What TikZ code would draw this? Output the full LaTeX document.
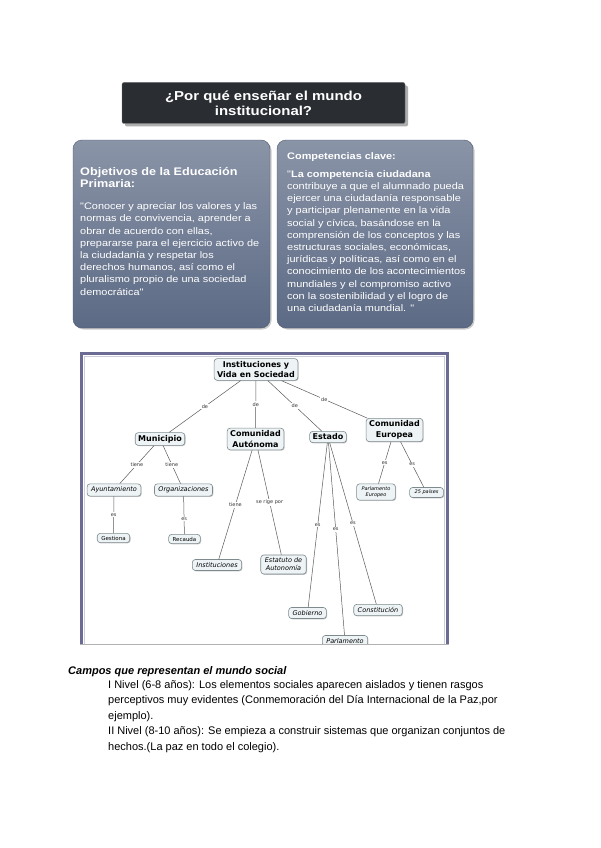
\documentclass[tikz,border=0pt]{standalone}
\usepackage{fontspec}
\setmainfont{Liberation Sans}
\newfontfamily\boxfont[FakeStretch=1.15]{Liberation Sans}
\newfontfamily\mapfont{DejaVu Sans}
\usepackage{tikz}
\usetikzlibrary{positioning, shapes.misc, shadows}
\definecolor{ink}{HTML}{2a2e33}
\definecolor{slatetop}{HTML}{8a94a7}
\definecolor{slatebot}{HTML}{5c6a85}
\definecolor{frame}{HTML}{6b6b93}
\definecolor{cnode}{HTML}{eef4f6}
\definecolor{cedge}{HTML}{7e8a8e}
\definecolor{wirecol}{HTML}{5a5a5a}

\begin{document}
\begin{tikzpicture}[x=1pt, y=-1pt,
  titlebox/.style={fill=ink, draw=ink!70, rounded corners=2pt, minimum width=283pt, minimum height=41pt, text=white, align=center, font=\boxfont\bfseries\fontsize{13}{15}\selectfont, drop shadow={shadow xshift=3pt, shadow yshift=-3pt, fill=black!45, opacity=0.7}},
  panel/.style={rounded corners=9pt, top color=slatetop, bottom color=slatebot, draw=slatebot!85!black, line width=0.4pt, minimum height=188pt, drop shadow={shadow xshift=1.5pt, shadow yshift=-1.5pt, fill=black!40, opacity=0.5}},
  paneltitle/.style={anchor=north west, align=left, inner sep=0pt, text=white, font=\boxfont\bfseries\fontsize{11}{12}\selectfont},
  paneltext/.style={anchor=north west, align=left, inner sep=0pt, text=white, font=\boxfont\fontsize{9.5}{12.2}\selectfont},
  concept/.style={draw=cedge, fill=cnode, rounded corners=3pt, line width=0.6pt, align=center, inner xsep=3pt, inner ysep=2.5pt, font=\mapfont\bfseries\fontsize{8}{10.5}\selectfont, drop shadow={shadow xshift=0.8pt, shadow yshift=-0.8pt, fill=black!45, opacity=0.5}},
  leaf/.style={concept, inner xsep=4pt, inner ysep=3pt, font=\mapfont\itshape\fontsize{6.5}{8}\selectfont},
  smallleaf/.style={concept, inner xsep=4pt, inner ysep=2.5pt, font=\mapfont\fontsize{5.5}{7}\selectfont},
  tinyleaf/.style={concept, inner xsep=5pt, inner ysep=2.5pt, font=\mapfont\itshape\fontsize{5}{6.5}\selectfont},
  lbl/.style={fill=white, inner sep=1pt, font=\mapfont\fontsize{5}{6}\selectfont, text=black!80},
  wire/.style={draw=wirecol, line width=0.5pt}
]
  \useasboundingbox[fill=white] (0,0) rectangle (600,848);

  \node[titlebox] (titulo) at (263.5,103) {¿Por qué enseñar el mundo\\institucional?};

  \node[panel, minimum width=197pt] (objetivos) at (171.5,234) {};
  \node[panel, minimum width=196pt] (competencias) at (375,234) {};

  \node[paneltitle] (objtit) at (80,167) {Objetivos de la Educación\\Primaria:};
  \node[paneltext, below=15pt of objtit.south west, anchor=north west] (objtxt) {"Conocer y apreciar los valores y las\\normas de convivencia, aprender a\\obrar de acuerdo con ellas,\\prepararse para el ejercicio activo de\\la ciudadanía y respetar los\\derechos humanos, así como el\\pluralismo propio de una sociedad\\democrática"};

  \node[paneltitle, font=\boxfont\bfseries\fontsize{9.5}{11}\selectfont] (comptit) at (287,152) {Competencias clave:};
  \node[paneltext, below=9pt of comptit.south west, anchor=north west] (comptxt) {"\textbf{La competencia ciudadana}\\contribuye a que el alumnado pueda\\ejercer una ciudadanía responsable\\y participar plenamente en la vida\\social y cívica, basándose en la\\comprensión de los conceptos y las\\estructuras sociales, económicas,\\jurídicas y políticas, así como en el\\conocimiento de los acontecimientos\\mundiales y el compromiso activo\\con la sostenibilidad y el logro de\\una ciudadanía mundial. "};

  % Mapa conceptual
  \fill[white] (80,352) rectangle (449,645);
  \begin{scope}
    \clip (80,352) rectangle (449,644);
    \node[concept] (inst) at (256,369.5) {Instituciones y\\Vida en Sociedad};
    \node[concept] (muni) at (160,439) {Municipio};
    \node[concept] (autonoma) at (255.5,439) {Comunidad\\Autónoma};
    \node[concept] (estado) at (328,437) {Estado};
    \node[concept] (europa) at (394.5,430) {Comunidad\\Europea};

    \node[leaf] (ayunt) at (114,490) {Ayuntamiento};
    \node[leaf] (organiz) at (183.5,490) {Organizaciones};
    \node[smallleaf] (gestiona) at (113.5,538) {Gestiona};
    \node[smallleaf] (recauda) at (184.5,539) {Recauda};
    \node[leaf] (instit) at (217,565) {Instituciones};
    \node[leaf] (estatuto) at (283.5,564.5) {Estatuto de\\Autonomía};
    \node[tinyleaf] (parleur) at (376,492) {Parlamento\\Europeo};
    \node[tinyleaf] (paises) at (426.5,492.5) {25 países};
    \node[leaf] (gobierno) at (307.5,613) {Gobierno};
    \node[leaf] (constit) at (378,610) {Constitución};
    \node[leaf] (parlam) at (345,641) {Parlamento};

    \draw[wire] (inst) -- node[lbl] {de} (muni);
    \draw[wire] (inst) -- node[lbl] {de} (autonoma);
    \draw[wire] (inst) -- node[lbl] {de} (estado);
    \draw[wire] (inst) -- node[lbl] {de} (europa);
    \draw[wire] (muni) -- node[lbl] {tiene} (ayunt);
    \draw[wire] (muni) -- node[lbl] {tiene} (organiz);
    \draw[wire] (ayunt) -- node[lbl] {es} (gestiona);
    \draw[wire] (organiz) -- node[lbl, pos=0.6] {es} (recauda);
    \draw[wire] (autonoma) -- node[lbl] {tiene} (instit);
    \draw[wire] (autonoma) -- node[lbl] {se rige por} (estatuto);
    \draw[wire] (estado) -- node[lbl] {es} (gobierno);
    \draw[wire] (estado) -- node[lbl, pos=0.45] {es} (parlam);
    \draw[wire] (estado) -- node[lbl] {es} (constit);
    \draw[wire] (europa) -- node[lbl] {es} (parleur);
    \draw[wire] (europa) -- node[lbl] {es} (paises);
  \end{scope}
  \draw[frame, line width=3pt] (81.5,645) -- (81.5,353.5) -- (447.5,353.5) -- (447.5,645);
  \draw[frame!35, line width=0.8pt] (84.5,644) -- (84.5,356.5) -- (444.5,356.5) -- (444.5,644);
  \draw[black!30, line width=1.2pt] (80,644.5) -- (449,644.5);

  % Texto inferior
  \node[anchor=base west, inner sep=0pt, font=\bfseries\itshape\fontsize{11}{13}\selectfont] (campos) at (68,674) {Campos que representan el mundo social};
  \node[anchor=north west, align=left, inner sep=0pt, font=\fontsize{11}{15.5}\selectfont] (niveles) at (108,680) {I Nivel (6-8 años): Los elementos sociales aparecen aislados y tienen rasgos\\perceptivos muy evidentes (Conmemoración del Día Internacional de la Paz,por\\ejemplo).\\II Nivel (8-10 años): Se empieza a construir sistemas que organizan conjuntos de\\hechos.(La paz en todo el colegio).};
\end{tikzpicture}
\end{document}
